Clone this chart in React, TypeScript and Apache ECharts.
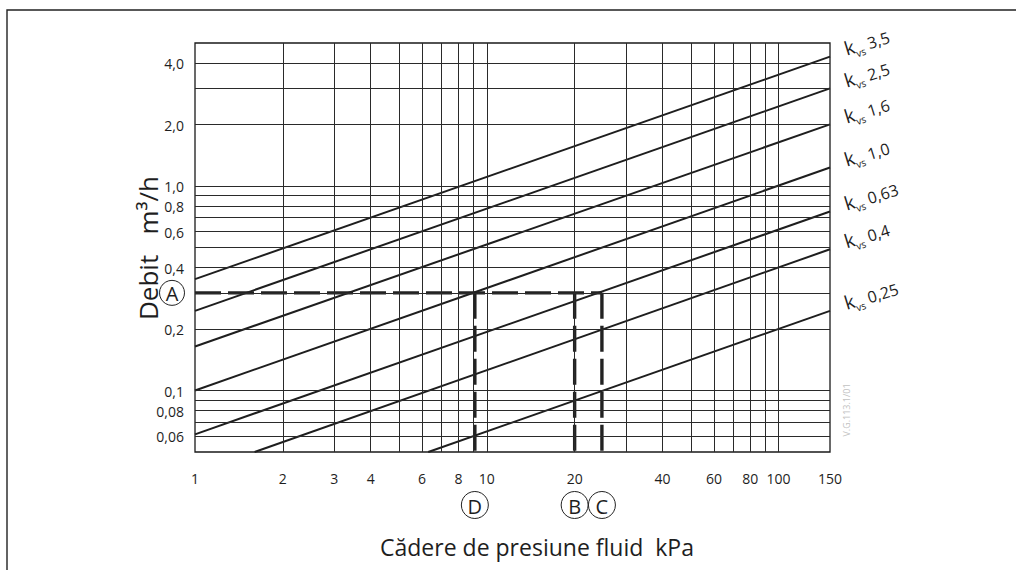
import React, { useEffect, useRef } from 'react';
import * as echarts from 'echarts';

const FONT = '"Open Sans", "Noto Sans", sans-serif';
const INK = '#1e1e1e';

// kvs characteristic lines (read at their visible ends: pressure drop kPa, flow m3/h)
const kvsLabels = ['3,5', '2,5', '1,6', '1,0', '0,63', '0,4', '0,25'];
const kvsStartDrop = [1, 1, 1, 1, 1, 1.6, 6.3];
const kvsStartFlow = [0.35, 0.245, 0.164, 0.1, 0.061, 0.05, 0.05];
const kvsEndDrop = [150, 150, 150, 150, 150, 150, 150];
const kvsEndFlow = [4.29, 3.0, 2.0, 1.23, 0.75, 0.49, 0.245];

// axes
const xMin = 1;
const xMax = 150;
const yMin = 0.05;
const yMax = 5;
const xGridValues = [2, 3, 4, 5, 6, 7, 8, 9, 10, 20, 30, 40, 50, 60, 70, 80, 90, 100];
const xTickValues = [1, 2, 3, 4, 6, 8, 10, 20, 40, 60, 80, 100, 150];
const xTickLabels = ['1', '2', '3', '4', '6', '8', '10', '20', '40', '60', '80', '100', '150'];
const yGridValues = [4, 3, 2, 1, 0.9, 0.8, 0.7, 0.6, 0.5, 0.4, 0.3, 0.2, 0.1, 0.09, 0.08, 0.07, 0.06];
const yTickValues = [4, 2, 1, 0.8, 0.6, 0.4, 0.2, 0.1, 0.08, 0.06];
const yTickLabels = ['4,0', '2,0', '1,0', '0,8', '0,6', '0,4', '0,2', '0,1', '0,08', '0,06'];

// worked example
const exampleFlow = 0.3;
const exampleFlowLetter = 'A';
const exampleDrops = [9.1, 20, 24.8];
const exampleDropLetters = ['D', 'B', 'C'];

const yTitle = 'Debit   m³/h';
const xTitle = 'Cădere de presiune fluid  kPa';
const docCode = 'V.G.113.1/01';

function buildOption(): any {
  const series: any[] = [];

  // grid lines
  series.push({
    type: 'line',
    data: [],
    silent: true,
    z: 1,
    markLine: {
      silent: true,
      symbol: 'none',
      animation: false,
      label: { show: false },
      lineStyle: { color: '#2a2a2a', width: 1, type: 'solid' },
      data: [
        ...xGridValues.map((v) => ({ xAxis: v })),
        ...yGridValues.map((v) => ({ yAxis: v })),
      ],
    },
  });

  // kvs lines
  kvsLabels.forEach((name, i) => {
    series.push({
      type: 'line',
      name: 'kvs ' + name,
      symbol: 'none',
      showSymbol: false,
      silent: true,
      z: 3,
      lineStyle: { color: INK, width: 2 },
      data: [
        [kvsStartDrop[i], kvsStartFlow[i]],
        [kvsEndDrop[i], kvsEndFlow[i]],
      ],
    });
  });

  // dashed example lines
  const dashStyle = { color: '#222', width: 3.4, type: [26, 7] };
  series.push({
    type: 'line',
    symbol: 'none',
    silent: true,
    z: 4,
    lineStyle: dashStyle,
    data: [
      [xMin, exampleFlow],
      [exampleDrops[exampleDrops.length - 1], exampleFlow],
    ],
  });
  exampleDrops.forEach((d) => {
    series.push({
      type: 'line',
      symbol: 'none',
      silent: true,
      z: 4,
      lineStyle: dashStyle,
      data: [
        [d, exampleFlow],
        [d, yMin],
      ],
    });
  });

  return {
    animation: false,
    backgroundColor: '#ffffff',
    grid: {
      left: 195,
      top: 43,
      width: 635,
      height: 409,
      show: true,
      borderColor: '#1a1a1a',
      borderWidth: 1.3,
      backgroundColor: 'transparent',
      containLabel: false,
      outerBoundsMode: 'none',
    },
    xAxis: {
      type: 'log',
      logBase: 10,
      min: xMin,
      max: xMax,
      axisLine: { show: false },
      axisTick: { show: false },
      axisLabel: { show: false },
      splitLine: { show: false },
      minorSplitLine: { show: false },
    },
    yAxis: {
      type: 'log',
      logBase: 10,
      min: yMin,
      max: yMax,
      axisLine: { show: false },
      axisTick: { show: false },
      axisLabel: { show: false },
      splitLine: { show: false },
      minorSplitLine: { show: false },
    },
    series,
  };
}

export default function App() {
  const ref = useRef<HTMLDivElement>(null);

  useEffect(() => {
    if (!ref.current) return;
    const chart = echarts.init(ref.current, null, { renderer: 'svg' });
    chart.setOption(buildOption());

    const px = (x: number, y: number) => chart.convertToPixel({ gridIndex: 0 }, [x, y]) as number[];
    const graphics: any[] = [];
    const origin = px(xMin, yMin);

    // outer frame
    graphics.push({
      type: 'polyline',
      silent: true,
      shape: { points: [[7, 570], [7, 10], [1016, 10]] },
      style: { stroke: '#222', lineWidth: 1.4, fill: null },
    });

    // tick labels
    xTickValues.forEach((v, i) => {
      const p = px(v, yMin);
      graphics.push({
        type: 'text',
        x: p[0],
        y: p[1] + 26,
        silent: true,
        style: {
          text: xTickLabels[i],
          fontSize: 14,
          fontFamily: FONT,
          fill: INK,
          align: 'center',
          verticalAlign: 'middle',
        },
      });
    });
    yTickValues.forEach((v, i) => {
      const p = px(xMin, v);
      graphics.push({
        type: 'text',
        x: origin[0] - 11,
        y: p[1] + 1,
        silent: true,
        style: {
          text: yTickLabels[i],
          fontSize: 14,
          fontFamily: FONT,
          fill: INK,
          align: 'right',
          verticalAlign: 'middle',
        },
      });
    });

    // axis titles
    graphics.push({
      type: 'text',
      x: 148,
      y: 248,
      rotation: Math.PI / 2,
      style: {
        text: yTitle,
        fontSize: 26,
        fontFamily: FONT,
        fill: INK,
        align: 'center',
        verticalAlign: 'middle',
      },
    });
    graphics.push({
      type: 'text',
      x: 537,
      y: 547,
      style: {
        text: xTitle,
        fontSize: 23,
        fontFamily: FONT,
        fill: INK,
        align: 'center',
        verticalAlign: 'middle',
      },
    });

    // document code
    graphics.push({
      type: 'text',
      x: 846,
      y: 410,
      rotation: Math.PI / 2,
      style: {
        text: docCode,
        fontSize: 9,
        fontFamily: FONT,
        fill: '#c2c2c2',
        align: 'center',
        verticalAlign: 'middle',
      },
    });

    // kvs labels
    kvsLabels.forEach((name, i) => {
      const end = px(kvsEndDrop[i], kvsEndFlow[i]);
      graphics.push({
        type: 'text',
        x: end[0] + 15,
        y: end[1] - 6,
        rotation: 0.3,
        style: {
          text: '{k|k}{s|vs}{v| ' + name + '}',
          fontFamily: FONT,
          fill: INK,
          align: 'left',
          verticalAlign: 'middle',
          rich: {
            k: { fontSize: 19, fontFamily: FONT, fill: INK, verticalAlign: 'bottom', padding: [0, 0, 3, 0] },
            s: { fontSize: 10, fontFamily: FONT, fill: INK, verticalAlign: 'bottom' },
            v: { fontSize: 16, fontFamily: FONT, fill: INK, verticalAlign: 'bottom', padding: [0, 0, 3, 0] },
          },
        },
      });
    });

    // circled letters
    const circled = (cx: number, cy: number, r: number, letter: string) => {
      graphics.push({
        type: 'circle',
        silent: true,
        shape: { cx, cy, r },
        style: { fill: '#fff', stroke: '#222', lineWidth: 1 },
        z: 10,
      });
      graphics.push({
        type: 'text',
        x: cx,
        y: cy + 1,
        z: 11,
        silent: true,
        style: {
          text: letter,
          fontSize: 20,
          fontFamily: FONT,
          fill: INK,
          align: 'center',
          verticalAlign: 'middle',
        },
      });
    };
    const aPt = px(xMin, exampleFlow);
    circled(aPt[0] - 23, aPt[1], 12.5, exampleFlowLetter);
    exampleDrops.forEach((d, i) => {
      const p = px(d, yMin);
      circled(p[0], p[1] + 53, 13.5, exampleDropLetters[i]);
    });

    chart.setOption({ graphic: graphics });
    return () => chart.dispose();
  }, []);

  return (
    <div
      ref={ref}
      style={{ position: 'fixed', left: 0, top: 0, width: 1016, height: 570, background: '#fff' }}
    />
  );
}
